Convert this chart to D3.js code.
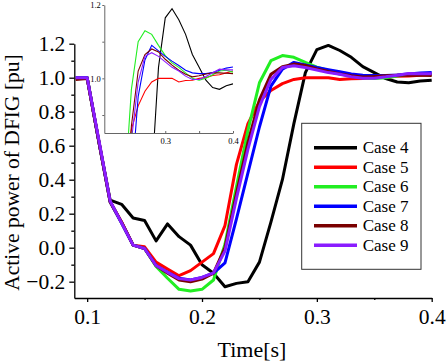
<!DOCTYPE html>
<html>
<head>
<meta charset="utf-8">
<script src="https://cdn.jsdelivr.net/npm/d3@7"></script>
<style>
  body { margin: 0; background: #fff; }
  svg { display: block; }
</style>
</head>
<body>
<div id="chart"></div>
<script>
// time samples [s]
const times = [0.09, 0.10, 0.11, 0.12, 0.13, 0.14, 0.15, 0.16, 0.17, 0.18, 0.19,
  0.20, 0.21, 0.22, 0.23, 0.24, 0.25, 0.26, 0.27, 0.28, 0.29,
  0.30, 0.31, 0.32, 0.33, 0.34, 0.35, 0.36, 0.37, 0.38, 0.39, 0.40];

const case4 = [1.0, 1.0, 0.63, 0.28, 0.255, 0.175, 0.16, 0.04, 0.14, 0.065, 0.015,
  -0.1, -0.15, -0.23, -0.21, -0.2, -0.085, 0.15, 0.40, 0.73, 1.03,
  1.165, 1.19, 1.16, 1.12, 1.065, 1.03, 0.995, 0.975, 0.97, 0.98, 0.985];
const case5 = [1.0, 1.0, 0.63, 0.27, 0.15, 0.015, 0.005, -0.085, -0.125, -0.165, -0.135,
  -0.085, -0.035, 0.13, 0.49, 0.73, 0.86, 0.925, 0.965, 0.99, 1.0,
  1.0, 1.0, 0.99, 0.994, 0.995, 1.0, 1.002, 1.008, 1.01, 1.015, 1.02];
const case6 = [1.0, 1.0, 0.63, 0.27, 0.145, 0.015, -0.005, -0.11, -0.18, -0.245, -0.255,
  -0.245, -0.19, 0.02, 0.36, 0.69, 0.97, 1.10, 1.13, 1.12, 1.09,
  1.062, 1.042, 1.03, 1.015, 1.0, 0.995, 1.0, 1.01, 1.02, 1.022, 1.017];
const case7 = [1.0, 1.0, 0.63, 0.27, 0.145, 0.015, -0.005, -0.105, -0.145, -0.18, -0.19,
  -0.175, -0.15, -0.09, 0.17, 0.44, 0.71, 0.95, 1.05, 1.09, 1.075,
  1.06, 1.047, 1.035, 1.022, 1.015, 1.013, 1.013, 1.016, 1.022, 1.028, 1.031];
const case8 = [0.99, 0.995, 0.63, 0.27, 0.15, 0.015, -0.005, -0.105, -0.15, -0.19, -0.2,
  -0.185, -0.15, 0.0, 0.32, 0.62, 0.87, 1.02, 1.065, 1.08, 1.072,
  1.052, 1.036, 1.022, 1.011, 1.004, 1.007, 1.012, 1.015, 1.015, 1.014, 1.013];
const case9 = [1.0, 1.0, 0.64, 0.275, 0.145, 0.015, -0.005, -0.105, -0.145, -0.182, -0.19,
  -0.175, -0.148, -0.02, 0.29, 0.58, 0.83, 0.99, 1.06, 1.07, 1.06,
  1.045, 1.03, 1.02, 1.006, 0.997, 0.997, 1.005, 1.015, 1.025, 1.023, 1.023];

const seriesNames = ["Case 4", "Case 5", "Case 6", "Case 7", "Case 8", "Case 9"];
const seriesValues = [case4, case5, case6, case7, case8, case9];
const seriesColors = ["#000000", "#ff0000", "#22ee22", "#0000ff", "#7a0000", "#8a1cff"];

const xMajorTicks = [0.1, 0.2, 0.3, 0.4];
const xMinorTicks = [0.15, 0.25, 0.35];
const yMajorTicks = [-0.2, 0.0, 0.2, 0.4, 0.6, 0.8, 1.0, 1.2];
const yMinorTicks = [-0.1, 0.1, 0.3, 0.5, 0.7, 0.9, 1.1];
const insetXTicks = [0.25, 0.3, 0.35, 0.4];
const insetXLabels = [0.3, 0.4];
const insetYTicks = [0.9, 1.0, 1.1, 1.2];
const insetYLabels = [1.0, 1.2];

const FONT = "'Liberation Serif', 'Times New Roman', serif";
const width = 447, height = 362;
const margins = { top: 43.7, right: 15.3, bottom: 64, left: 74.3 };
const innerWidth = width - margins.left - margins.right;
const innerHeight = height - margins.top - margins.bottom;

const series = seriesNames.map((name, i) => ({
  name,
  color: seriesColors[i],
  points: times.map((t, j) => ({ t, v: seriesValues[i][j] }))
}));

const svg = d3.select("#chart").append("svg")
  .attr("width", width)
  .attr("height", height)
  .attr("font-family", FONT);

const mainG = svg.append("g")
  .attr("transform", `translate(${margins.left},${margins.top})`);

const x = d3.scaleLinear().domain([0.0888, 0.4]).range([0, innerWidth]);
const y = d3.scaleLinear().domain([-0.296, 1.2]).range([innerHeight, 0]);

// axes
const xAxisG = mainG.append("g").attr("transform", `translate(0,${innerHeight})`);
xAxisG.call(d3.axisBottom(x).tickValues(xMajorTicks).tickSize(4).tickSizeOuter(0)
  .tickPadding(7).tickFormat(d3.format(".1f")));
xAxisG.append("g").call(d3.axisBottom(x).tickValues(xMinorTicks).tickSize(2).tickFormat(""))
  .select(".domain").remove();

const yAxisG = mainG.append("g");
yAxisG.call(d3.axisLeft(y).tickValues(yMajorTicks).tickSize(5).tickSizeOuter(0)
  .tickPadding(4).tickFormat(d3.format(".1f")));
yAxisG.append("g").call(d3.axisLeft(y).tickValues(yMinorTicks).tickSize(3).tickFormat(""))
  .select(".domain").remove();

mainG.selectAll("g").attr("font-family", FONT);
mainG.selectAll(".tick text").attr("font-size", "21.5px").attr("fill", "#000");
mainG.selectAll(".domain, .tick line").attr("stroke", "#000").attr("stroke-width", 1.3);

// lines
const line = d3.line().x((d) => x(d.t)).y((d) => y(d.v));
mainG.append("g").selectAll("path")
  .data(series)
  .join("path")
  .attr("d", (d) => line(d.points))
  .attr("fill", "none")
  .attr("stroke", (d) => d.color)
  .attr("stroke-width", 3)
  .attr("stroke-linejoin", "round");

// axis titles
svg.append("text")
  .attr("x", margins.left + innerWidth / 2 - 1)
  .attr("y", 357)
  .attr("text-anchor", "middle")
  .attr("font-size", "22px")
  .text("Time[s]");

svg.append("text")
  .attr("transform", `translate(19,${172.5}) rotate(-90)`)
  .attr("text-anchor", "middle")
  .attr("font-size", "21.5px")
  .text("Active power of DFIG [pu]");

// legend
const legend = svg.append("g").attr("transform", "translate(301.7,123.3)");
legend.append("rect")
  .attr("width", 119.3).attr("height", 146)
  .attr("fill", "#fff").attr("stroke", "#333").attr("stroke-width", 1);
const legendRows = legend.selectAll("g.row")
  .data(series)
  .join("g")
  .attr("class", "row")
  .attr("transform", (d, i) => `translate(0,${24.4 + i * 19.5})`);
legendRows.append("line")
  .attr("x1", 12.3).attr("x2", 55.3)
  .attr("stroke", (d) => d.color).attr("stroke-width", 3.5);
legendRows.append("text")
  .attr("x", 61)
  .attr("dy", "0.34em")
  .attr("font-size", "17px")
  .text((d) => d.name);

// inset
const inset = { left: 104.3, top: 5, right: 233, bottom: 133 };
const iw = inset.right - inset.left, ih = inset.bottom - inset.top;
const insetG = svg.append("g").attr("transform", `translate(${inset.left},${inset.top})`);
const xi = d3.scaleLinear().domain([0.21, 0.4]).range([0, iw]);
const yi = d3.scaleLinear().domain([0.851, 1.2]).range([ih, 0]);

insetG.append("rect").attr("width", iw).attr("height", ih).attr("fill", "#fff");
insetG.append("clipPath").attr("id", "inset-clip")
  .append("rect").attr("width", iw).attr("height", ih);

const lineInset = d3.line().x((d) => xi(d.t)).y((d) => yi(d.v));
insetG.append("g").attr("clip-path", "url(#inset-clip)")
  .selectAll("path")
  .data(series)
  .join("path")
  .attr("d", (d) => lineInset(d.points))
  .attr("fill", "none")
  .attr("stroke", (d) => d.color)
  .attr("stroke-width", 1.1);

insetG.append("g").attr("transform", `translate(0,${ih})`)
  .call(d3.axisBottom(xi).tickValues(insetXTicks).tickSize(-2).tickSizeOuter(0).tickPadding(5)
    .tickFormat((d) => insetXLabels.includes(d) ? d3.format(".1f")(d) : ""));
insetG.append("g")
  .call(d3.axisLeft(yi).tickValues(insetYTicks).tickSize(2).tickSizeOuter(0).tickPadding(1.5)
    .tickFormat((d) => insetYLabels.includes(d) ? d3.format(".1f")(d) : ""));
insetG.selectAll("g").attr("font-family", FONT);
insetG.selectAll(".tick text").attr("font-size", "8.5px").attr("fill", "#000");
insetG.selectAll(".domain, .tick line").attr("stroke", "#555").attr("stroke-width", 0.9);
</script>
</body>
</html>
